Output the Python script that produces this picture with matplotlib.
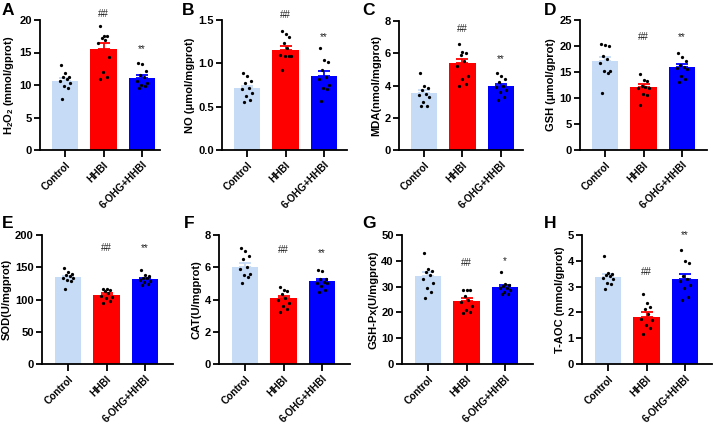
import matplotlib
matplotlib.use("Agg")
import matplotlib.pyplot as plt
import numpy as np

plt.rcParams['font.family'] = ['Liberation Sans', 'DejaVu Sans']
plt.rcParams['font.weight'] = 'bold'
plt.rcParams['mathtext.fontset'] = 'custom'
plt.rcParams['mathtext.rm'] = 'Liberation Sans:bold'
plt.rcParams['mathtext.bf'] = 'Liberation Sans:bold'
plt.rcParams['mathtext.it'] = 'Liberation Sans:italic:bold'
plt.rcParams['mathtext.default'] = 'bf'

groups = ['Control', 'HHBI', '6-OHG+HHBI']
colors = ['#c6dbf5', '#ff0000', '#0000ff']
letters = ['A', 'B', 'C', 'D', 'E', 'F', 'G', 'H']
ylabels = [r'H$_2$O$_2$ (mmol/gprot)', 'NO (μmol/mgprot)', 'MDA(nmol/mgprot)',
           'GSH (μmol/gprot)', 'SOD(U/mgprot)', 'CAT(U/mgprot)',
           'GSH-Px(U/mgprot)', 'T-AOC (mmol/gprot)']
ymax = [20, 1.5, 8, 25, 200, 8, 50, 5]
ystep = [5, 0.5, 2, 5, 50, 2, 10, 1]
yfmt = ['%d', '%.1f', '%d', '%d', '%d', '%d', '%d', '%d']

# bar means and SEM
means = [[10.6, 15.5, 11.1], [0.71, 1.155, 0.85], [3.55, 5.4, 3.96], [17.1, 12.05, 15.9],
         [135.4, 107.5, 131.3], [6.0, 4.07, 5.17], [34.0, 24.5, 29.7], [3.38, 1.83, 3.31]]
sems = [[0.45, 0.9, 0.45], [0.03, 0.045, 0.06], [0.17, 0.27, 0.16], [0.8, 0.55, 0.6],
        [1.6, 2.5, 2.5], [0.24, 0.17, 0.13], [1.5, 1.1, 0.8], [0.11, 0.17, 0.19]]

# individual points
points = [
    [[13.1, 11.8, 11.2, 11.2, 10.9, 10.6, 10.3, 9.8, 9.6, 7.9],
     [19.0, 17.6, 17.5, 17.3, 17.0, 16.4, 14.3, 12.0, 11.3, 11.0],
     [13.4, 13.3, 12.1, 11.6, 11.2, 10.6, 10.3, 10.0, 9.8, 9.5]],
    [[0.89, 0.85, 0.80, 0.77, 0.72, 0.70, 0.66, 0.62, 0.58, 0.55],
     [1.37, 1.34, 1.30, 1.24, 1.18, 1.10, 1.09, 1.08, 1.08, 0.92],
     [1.18, 1.04, 1.01, 0.92, 0.84, 0.82, 0.75, 0.71, 0.70, 0.57]],
    [[4.75, 4.0, 3.85, 3.7, 3.5, 3.4, 3.3, 3.0, 2.75, 2.7],
     [6.6, 6.1, 6.0, 5.9, 5.5, 5.2, 4.6, 4.4, 4.1, 4.0],
     [4.8, 4.6, 4.4, 4.2, 4.0, 3.9, 3.7, 3.6, 3.3, 3.1]],
    [[20.3, 20.2, 20.0, 18.0, 17.5, 16.8, 15.2, 15.1, 14.8, 11.0],
     [14.6, 13.5, 13.3, 12.4, 12.2, 12.0, 11.9, 10.7, 10.5, 8.6],
     [18.7, 17.9, 17.1, 16.4, 16.0, 15.7, 15.6, 14.3, 13.6, 13.0]],
    [[149, 142, 140, 138, 136, 134, 133, 130, 128, 116],
     [117, 116, 115, 113, 110, 106, 104, 102, 97, 95],
     [146, 138, 136, 134, 133, 131, 129, 127, 124, 122]],
    [[7.2, 7.0, 6.7, 6.5, 6.0, 5.9, 5.6, 5.5, 5.4, 5.05],
     [4.75, 4.6, 4.5, 4.35, 4.1, 4.0, 3.8, 3.6, 3.4, 3.25],
     [5.85, 5.75, 5.3, 5.25, 5.1, 5.05, 5.0, 4.85, 4.6, 4.45]],
    [[43.2, 37.0, 36.0, 35.8, 34.5, 33.0, 31.5, 29.5, 28.0, 25.5],
     [28.8, 28.6, 28.5, 26.5, 25.0, 24.0, 22.5, 21.0, 20.0, 19.8],
     [35.8, 31.0, 30.5, 30.2, 29.6, 29.3, 28.5, 27.8, 27.3, 27.0]],
    [[4.2, 3.52, 3.48, 3.45, 3.4, 3.35, 3.3, 3.15, 3.1, 2.9],
     [2.73, 2.35, 2.2, 2.15, 1.95, 1.75, 1.7, 1.5, 1.4, 1.15],
     [4.42, 4.0, 3.9, 3.4, 3.3, 3.2, 3.05, 2.95, 2.6, 2.5]],
]

# significance marks: (text, y) for HHBI and 6-OHG+HHBI
sig = [[('##', 20.2), ('**', 14.8)], [('##', 1.5), ('**', 1.24)],
       [('##', 7.2), ('**', 5.3)], [('##', 20.8), ('**', 20.8)],
       [('##', 172), ('**', 172)], [('##', 6.75), ('**', 6.55)],
       [('##', 37.2), ('*', 38.0)], [('##', 3.38), ('**', 4.82)]]

# axes rectangles in pixels: left, right, top, bottom
W, H = 717, 425
rects = [(40, 160, 20, 150), (222, 347, 20, 150), (399, 523, 21, 150), (580, 707, 20, 150),
         (42, 173, 235, 364), (219, 350, 235, 364), (402, 533, 235, 364), (582, 712, 235, 364)]
letter_pos = [(2, 3), (182, 3), (362, 3), (544, 3), (2, 216), (184, 216), (362, 216), (544, 216)]

fig = plt.figure(figsize=(W / 100, H / 100), dpi=100)
x = np.arange(3)
jitter = np.array([-0.1, 0.0, 0.1, -0.05, 0.05, -0.14, 0.14, -0.02, 0.08, -0.08])

for i in range(8):
    l, r, t, b = rects[i]
    ax = fig.add_axes([l / W, 1 - b / H, (r - l) / W, (b - t) / H])
    first_tick_px = l + (25 if i < 4 else 26)
    spacing = 38.5
    ax.set_xlim((l - first_tick_px) / spacing, (r - first_tick_px) / spacing)
    ax.set_ylim(0, ymax[i])
    ax.bar(x, means[i], width=0.68, color=colors, zorder=1)
    for j in range(3):
        ax.errorbar(x[j], means[i][j], yerr=[[0], [sems[i][j]]], fmt='none',
                    ecolor=colors[j], elinewidth=1.3, capsize=4, capthick=1.3, zorder=2)
        pts = np.array(points[i][j])
        ax.scatter(x[j] + jitter[:len(pts)], pts, s=5.5, color='black', zorder=3, linewidths=0)
    for j, (txt, yv) in enumerate(sig[i]):
        ax.text(x[j + 1], yv, txt, ha='center', va='bottom', fontsize=7,
                fontweight='normal', color='#222222')
    ticks = np.arange(0, ymax[i] + ystep[i] / 2, ystep[i])
    ax.set_yticks(ticks)
    ax.set_yticklabels([yfmt[i] % v for v in ticks])
    ax.set_xticks(x)
    ax.set_xticklabels(groups, rotation=45, ha='right', rotation_mode='anchor')
    ax.tick_params(axis='both', width=1.3, direction='out')
    ax.tick_params(axis='y', labelsize=8, length=4.5, pad=1.5)
    ax.tick_params(axis='x', labelsize=7.3, length=5, pad=2)
    for s in ['top', 'right']:
        ax.spines[s].set_visible(False)
    for s in ['left', 'bottom']:
        ax.spines[s].set_linewidth(1.3)
    ax.set_ylabel(ylabels[i], fontsize=8, fontweight='bold', labelpad=2)
    lx, ly = letter_pos[i]
    fig.text(lx / W, 1 - ly / H, letters[i], fontsize=12.5, fontweight='bold', va='top', ha='left')

fig.savefig('out.png', dpi=100)
